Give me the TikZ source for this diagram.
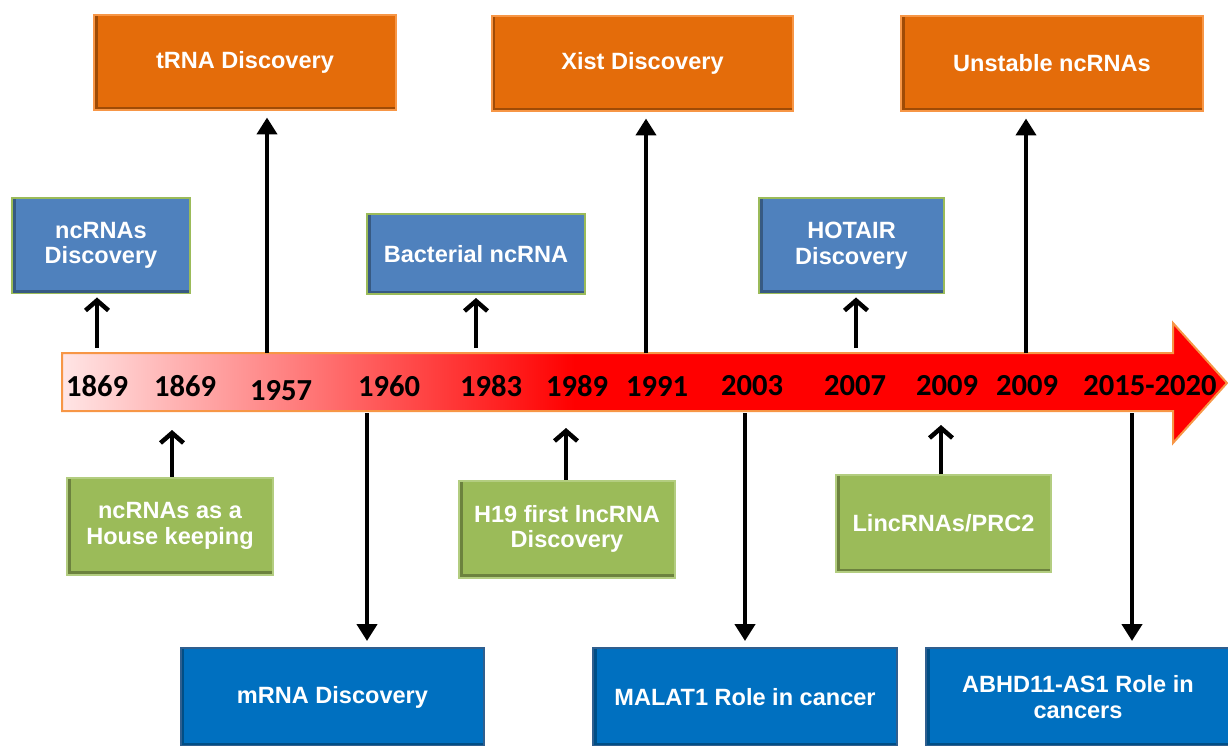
\documentclass[tikz,border=0pt]{standalone}
\usepackage{fontspec}
\usetikzlibrary{arrows.meta}
\newfontfamily\boxfont{Liberation Sans}
\newfontfamily\yearfont{Carlito}

\definecolor{boxorange}{HTML}{E46C0A}
\definecolor{edgeorange}{HTML}{F79646}
\definecolor{boxsteel}{HTML}{4F81BD}
\definecolor{boxgreen}{HTML}{9BBB59}
\definecolor{edgegreen}{HTML}{B3CD80}
\definecolor{boxblue}{HTML}{0070C0}
\definecolor{edgeblue}{HTML}{2F5F8F}

\pgfdeclarehorizontalshading{timefade}{100bp}{color(0bp)=(red!10); color(25bp)=(red!10); color(47bp)=(red); color(100bp)=(red)}

\tikzset{
  event/.style={draw, line width=0.04cm, inner sep=0pt, text=white, align=center,
    font=\boxfont\bfseries\fontsize{13.4}{14.5}\selectfont,
    path picture={\draw[black, opacity=.3, line width=0.14cm]
      (path picture bounding box.north west) -- (path picture bounding box.south west)
      -- (path picture bounding box.south east);}},
  orangebox/.style={event, fill=boxorange, draw=edgeorange, minimum width=6.04cm, minimum height=1.92cm},
  steelbox/.style={event, fill=boxsteel, draw=boxgreen, minimum height=1.92cm},
  greenbox/.style={event, fill=boxgreen, draw=edgegreen, minimum height=1.94cm},
  bluebox/.style={event, fill=boxblue, draw=edgeblue, minimum width=6.08cm, minimum height=1.96cm},
  year/.style={font=\yearfont\bfseries\fontsize{17.4}{20}\selectfont, inner sep=0pt},
  longarr/.style={line width=0.09cm, -{Triangle[length=0.34cm, width=0.4cm]}, shorten >=0.12cm},
  shortarr/.style={line width=0.09cm, -{Straight Barb[length=0.2cm, width=0.46cm]}}
}

\begin{document}
\begin{tikzpicture}[x=0.02cm, y=-0.02cm]
\useasboundingbox (0,0) rectangle (1228,745);

% timeline
\draw [shading=timefade, draw=edgeorange, line width=0.04cm, line join=miter]
  (62,353) -- (1173,353) -- (1173,323) -- (1227,383) -- (1173,443) -- (1173,411) -- (62,411) -- cycle;

\node[year] (y1) at (97,386) {1869};
\node[year] (y2) at (185,386) {1869};
\node[year] (y3) at (281,391) {1957};
\node[year] (y4) at (389,386) {1960};
\node[year] (y5) at (491,386) {1983};
\node[year] (y6) at (577,386) {1989};
\node[year] (y7) at (657,386) {1991};
\node[year] (y8) at (752,386) {2003};
\node[year] (y9) at (855,386) {2007};
\node[year] (y10) at (947,386) {2009};
\node[year] (y11) at (1027,386) {2009};
\node[year] (y12) at (1150,386) {2015-2020};

% boxes above
\node[orangebox] (trna) at (245,62.5) {tRNA Discovery};
\node[orangebox] (xist) at (642.5,63.5) {Xist Discovery};
\node[orangebox] (unstable) at (1052,63.5) {Unstable ncRNAs};
\node[steelbox, minimum width=3.56cm] (ncdisc) at (101,245.5) {ncRNAs\\Discovery};
\node[steelbox, minimum width=4.36cm, minimum height=1.6cm] (bact) at (476,254) {Bacterial ncRNA};
\node[steelbox, minimum width=3.7cm] (hotair) at (851.5,245.5) {HOTAIR\\Discovery};

% boxes below
\node[greenbox, minimum width=4.12cm] (house) at (170,526) {ncRNAs as a\\House keeping};
\node[greenbox, minimum width=4.32cm] (h19) at (567,529) {H19 first lncRNA\\Discovery};
\node[greenbox, minimum width=4.3cm] (linc) at (943.5,523.5) {LincRNAs/PRC2};
\node[bluebox] (mrna) at (332.5,697) {mRNA Discovery};
\node[bluebox] (malat) at (745,697) {MALAT1 Role in cancer};
\node[bluebox] (abhd) at (1078,697) {ABHD11-AS1 Role in\\cancers};

% connectors
\coordinate (up1) at (97,348);
\coordinate (up2) at (476,348);
\coordinate (up3) at (856,348);
\coordinate (lg1) at (267,353);
\coordinate (lg2) at (646,353);
\coordinate (lg3) at (1026,353);
\coordinate (dn1) at (367,413);
\coordinate (dn2) at (745,413);
\coordinate (dn3) at (1132,413);
\coordinate (in1) at (172,430);
\coordinate (in2) at (566,428);
\coordinate (in3) at (941,425);

\draw [shortarr, shorten >=0.06cm] (up1) -- (up1 |- ncdisc.south);
\draw [shortarr, shorten >=0.06cm] (up2) -- (up2 |- bact.south);
\draw [shortarr, shorten >=0.06cm] (up3) -- (up3 |- hotair.south);
\draw [longarr] (lg1) -- (lg1 |- trna.south);
\draw [longarr] (lg2) -- (lg2 |- xist.south);
\draw [longarr] (lg3) -- (lg3 |- unstable.south);
\draw [longarr] (dn1) -- (dn1 |- mrna.north);
\draw [longarr] (dn2) -- (dn2 |- malat.north);
\draw [longarr] (dn3) -- (dn3 |- abhd.north);
\draw [shortarr] (in1 |- house.north) -- (in1);
\draw [shortarr] (in2 |- h19.north) -- (in2);
\draw [shortarr] (in3 |- linc.north) -- (in3);
\end{tikzpicture}
\end{document}
